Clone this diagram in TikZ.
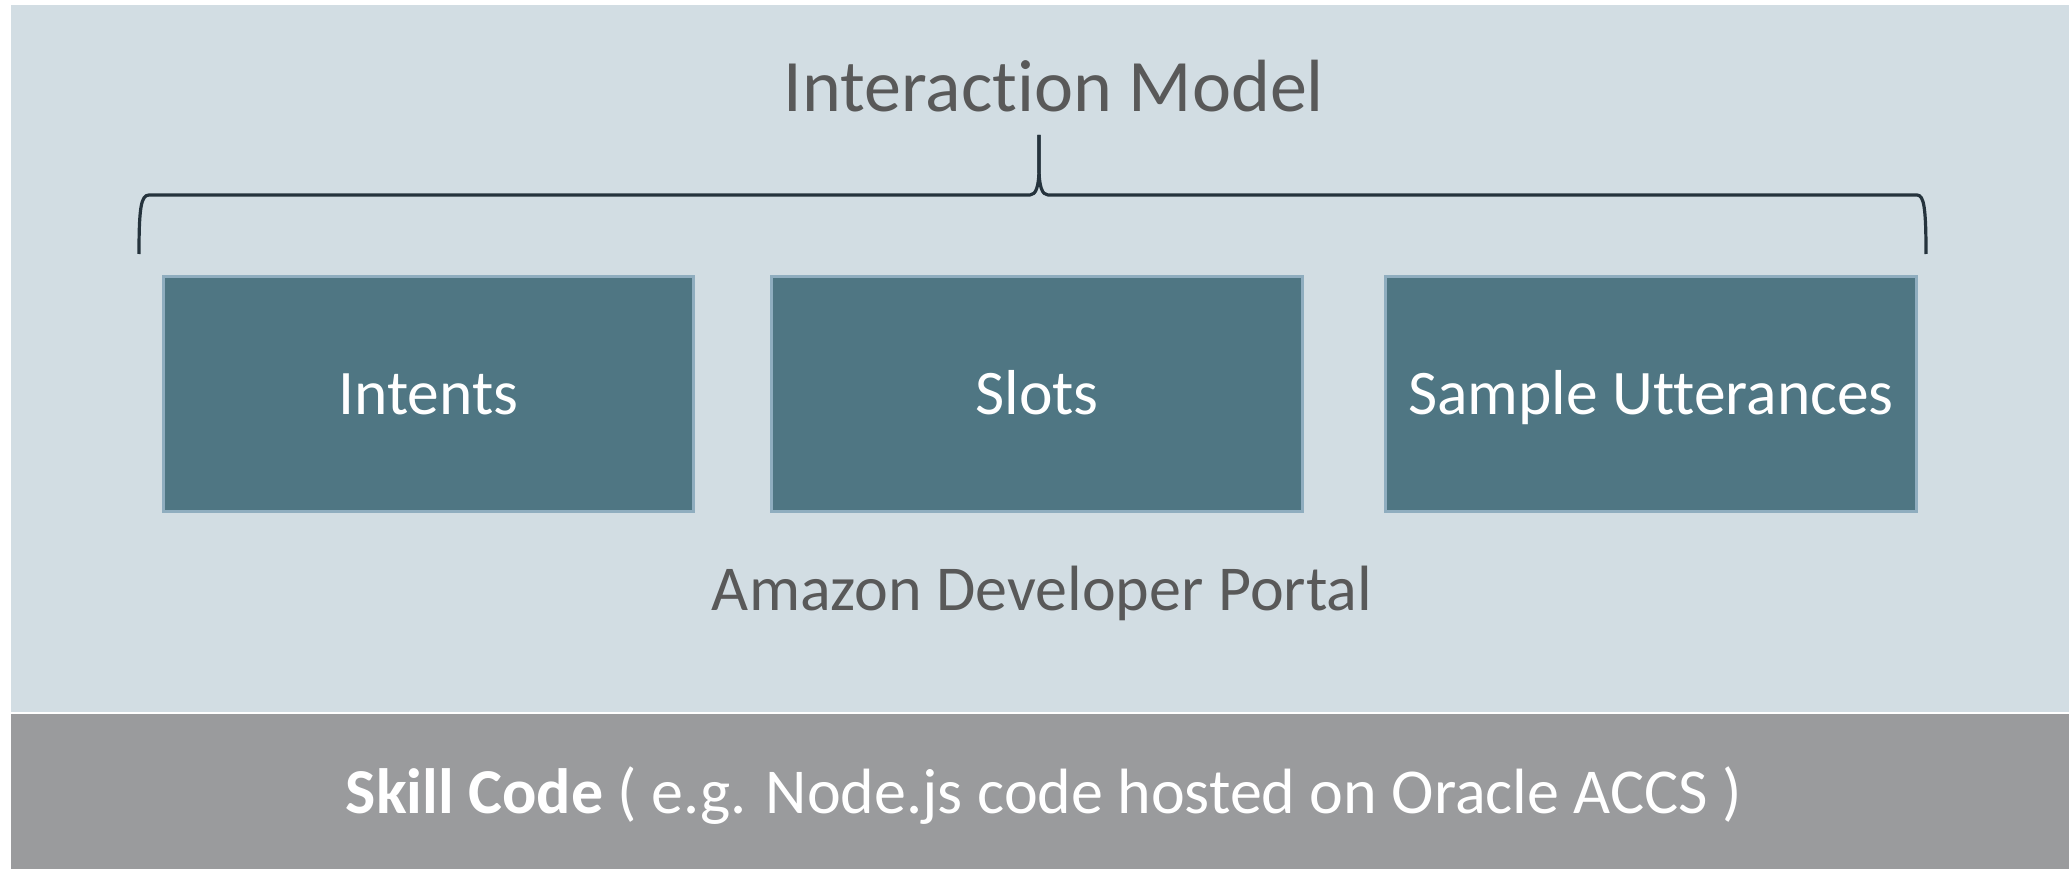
\documentclass[tikz,border=0pt]{standalone}
\usepackage{fontspec}
\setmainfont[Ligatures={NoCommon,NoContextual}]{Carlito}
\definecolor{panel}{HTML}{D2DDE3}
\definecolor{codebar}{HTML}{9A9B9D}
\definecolor{boxfill}{HTML}{4F7683}
\definecolor{boxline}{HTML}{8FADBF}
\definecolor{bracecol}{HTML}{25333D}
\definecolor{txtgray}{HTML}{595959}
\tikzset{
  compbox/.style={draw=boxline, fill=boxfill, line width=3.3pt, inner sep=0pt,
    minimum width=530.5pt, minimum height=234.5pt},
  boxtext/.style={text=white, inner sep=0pt, anchor=base, font=\fontsize{63.5}{76}\selectfont},
  graytext/.style={text=txtgray, inner sep=0pt, anchor=base},
  bracestyle/.style={draw=bracecol, line width=3.2pt, line cap=butt, line join=round}
}
\begin{document}
\begin{tikzpicture}[x=1pt,y=-1pt]
\useasboundingbox (0,0) rectangle (2069,869);
\fill[white] (0,0) rectangle (2069,869);
\fill[panel] (11,5) rectangle (2069,712);
\fill[codebar] (11,714) rectangle (2069,869);
% brace
\draw[bracestyle] (139,254) .. controls (139,208) and (141,195) .. (149,195)
  -- (1030,195) .. controls (1036,195) and (1039,186) .. (1039,168) -- (1039,135);
\draw[bracestyle] (1039,135) -- (1039,168) .. controls (1039,186) and (1042,195) .. (1048,195)
  -- (1917,195) .. controls (1924,195) and (1926,208) .. (1926,254);
% texts
\node[graytext, font=\fontsize{74}{88}\selectfont] (title) at (1054,112) {Interaction Model};
\node[compbox] (intents) at (428.5,394) {};
\node[compbox] (slots) at (1037,394) {};
\node[compbox] (utter) at (1651,394) {};
\node[boxtext] (intentsT) at (intents.center |- 0,414) {Intents};
\node[boxtext] (slotsT) at (slots.center |- 0,414) {Slots};
\node[boxtext] (utterT) at (utter.center |- 0,414) {Sample Utterances};
\node[graytext, font=\fontsize{64}{77}\selectfont] (portal) at (1042,610) {Amazon Developer Portal};
\node[text=white, inner sep=0pt, anchor=base, font=\fontsize{64}{77}\selectfont] (code) at (1044,813) {\textbf{Skill Code} ( e.g. Node.js code hosted on Oracle ACCS )};
\end{tikzpicture}
\end{document}
